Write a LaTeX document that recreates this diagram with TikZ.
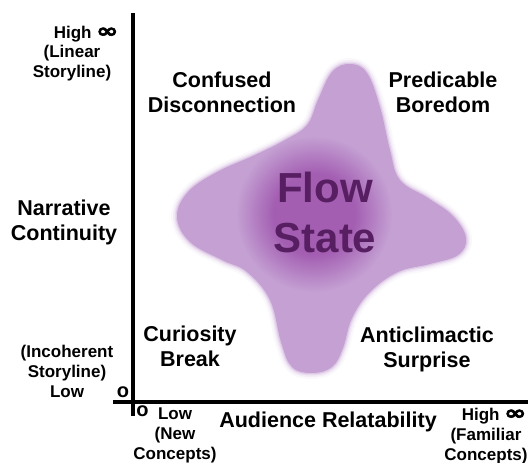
\documentclass[tikz,border=0pt]{standalone}
\usepackage{graphicx}
\usepackage{fontspec}
\setmainfont{Liberation Sans}
\newfontfamily\inffont[FakeBold=3]{DejaVu Sans}

\definecolor{blobC}{RGB}{196,160,211}
\definecolor{coreC}{RGB}{163,94,178}
\definecolor{flowtext}{RGB}{88,30,98}

% dark core of the flow region, fading into the light blob colour
\pgfdeclareradialshading{flowcore}{\pgfpoint{0bp}{0bp}}{%
  color(0bp)=(coreC); color(13bp)=(coreC); color(25bp)=(blobC); color(50bp)=(blobC)}

\tikzset{
  small/.style={font=\fontsize{17}{20}\selectfont\bfseries, align=center, inner sep=0pt},
  big/.style={font=\fontsize{21.5}{25}\selectfont\bfseries, align=center, inner sep=0pt},
  flowlabel/.style={font=\fontsize{42}{50}\selectfont\bfseries, text=flowtext, align=center, inner sep=0pt},
  zeromark/.style={font=\fontsize{20}{20}\selectfont\bfseries, inner sep=0pt},
  axisline/.style={line width=4.5pt},
  blob/.style={insert path={plot[smooth cycle, tension=0.65] coordinates {
      (350,64) (367,73) (380,107) (390,150) (400,180) (428,198) (453,216)
      (466,238) (458,255) (430,264) (398,272) (370,292) (352,318) (343,348)
      (332,367) (312,373) (292,367) (281,342) (270,300) (247,272) (222,260)
      (190,242) (177,217) (188,192) (217,172) (255,155) (285,140) (307,125)
      (318,100) (332,72)}}}
}

\newcommand{\infsym}{\raisebox{0.5pt}{\scalebox{1.55}[1.15]{\inffont\char"221E}}}

\begin{document}
\begin{tikzpicture}[x=1pt, y=-1pt]
  \useasboundingbox (0,0) rectangle (531,463);

  % soft rim of the flow region
  \foreach \w/\o in {12/0.07, 8/0.12, 5/0.2, 2.5/0.35} {
    \path[blob, draw=blobC, line width=\w pt, draw opacity=\o];
  }
  \path[blob, fill=blobC];
  \begin{scope}
    \clip[blob];
    \shade[shading=flowcore] (314,214) circle (78);
  \end{scope}

  % axes
  \coordinate (ytop) at (133,13);
  \coordinate (ybot) at (133,416);
  \coordinate (xleft) at (113,402);
  \coordinate (xright) at (528,402);
  \draw[axisline] (ytop) -- (ybot);
  \draw[axisline] (xleft) -- (xright);

  % zero marks at the origin
  \node[zeromark] (zeroY) at (123,392.5) {o};
  \node[zeromark] (zeroX) at (142.5,411) {o};

  % vertical axis labels
  \node[small, anchor=base] (yhigh) at (86,38) {High \infsym};
  \node[small] (ylinear) at (72,63) {(Linear\\Storyline)};
  \node[big] (ytitle) at (64,222) {Narrative\\Continuity};
  \node[small] (ylow) at (67,371) {(Incoherent\\Storyline)\\Low};

  % horizontal axis labels
  \node[small] (xlow) at (175,435) {Low\\(New\\Concepts)};
  \node[big, anchor=base] (xtitle) at (328,427) {Audience Relatability};
  \node[small, anchor=base] (xhigh) at (494,420) {High \infsym};
  \node[small] (xfamiliar) at (486,446.5) {(Familiar\\Concepts)};

  % quadrant labels
  \node[big] (q1) at (222,92.7) {Confused\\Disconnection};
  \node[big] (q2) at (443,92.7) {Predicable\\Boredom};
  \node[big] (q3) at (190,346.7) {Curiosity\\Break};
  \node[big] (q4) at (427,349) {Anticlimactic\\Surprise};

  % centre label
  \node[flowlabel] (flow) at (325,212.7) {Flow\\State};
\end{tikzpicture}
\end{document}
